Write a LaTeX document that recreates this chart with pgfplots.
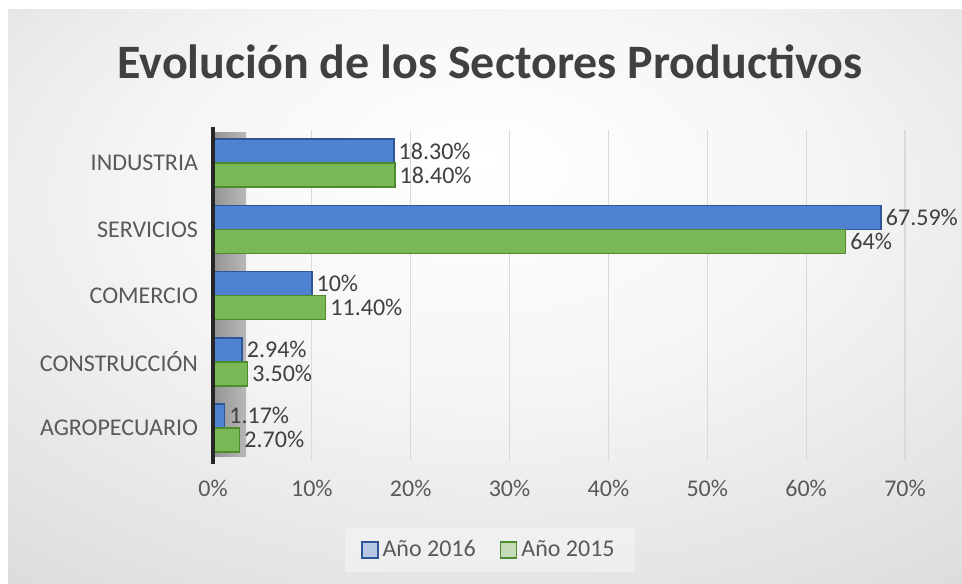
\documentclass[border=0pt]{standalone}
\usepackage{pgfplots}
\pgfplotsset{compat=1.18}
\usepackage{fontspec}
\setmainfont{Carlito}

\definecolor{azul}{HTML}{5082D2}
\definecolor{azulborde}{HTML}{2F5597}
\definecolor{verde}{HTML}{7AB855}
\definecolor{verdeborde}{HTML}{4E8A2E}
\definecolor{texto}{HTML}{595959}
\definecolor{titulo}{HTML}{404040}
\definecolor{rejilla}{HTML}{DADADA}

\pgfdeclareradialshading{fondo}{\pgfpoint{0bp}{12bp}}{%
  color(0bp)=(white); color(18bp)=(black!4); color(45bp)=(black!16); color(75bp)=(black!24)}

\begin{document}
\begin{tikzpicture}
\useasboundingbox (0,0) rectangle (481pt,291.5pt);
% fondo
\fill[white] (0,0) rectangle (481pt,291.5pt);
\shade[shading=fondo] (4pt,0) rectangle (481pt,286.5pt);
\node[font=\fontsize{24}{28}\selectfont\bfseries, text=titulo] at (245pt,260.5pt)
  {Evolución de los Sectores Productivos};
% pared lateral 3D
\shade[left color=black!42, right color=black!28] (107pt,63pt) rectangle (123pt,225pt);

\begin{axis}[
  at={(106.5pt,61pt)}, anchor=south west,
  scale only axis, width=346pt, height=165.5pt,
  clip=false,
  xbar, bar width=12pt,
  xmin=0, xmax=70, ymin=-0.5, ymax=4.5,
  xtick={0,10,...,70},
  xticklabel={\pgfmathprintnumber{\tick}\%},
  ytick={0,...,4},
  yticklabels={AGROPECUARIO,CONSTRUCCIÓN,COMERCIO,SERVICIOS,INDUSTRIA},
  major tick length=0pt,
  axis line style={draw=none},
  xmajorgrids, grid style={rejilla, line width=0.6pt},
  /pgf/number format/assume math mode=true,
  tick label style={font=\fontsize{12}{14}\selectfont, text=texto},
  xticklabel style={yshift=-6pt},
  yticklabel style={xshift=-4pt},
  point meta=explicit symbolic,
  nodes near coords,
  nodes near coords align={horizontal},
  every node near coord/.append style={anchor=west, font=\fontsize{12}{14}\selectfont, text=titulo, inner sep=2pt},
  legend style={at={(axis description cs:0.4,-0.269)}, anchor=center,
    legend columns=2, draw=none, fill=white, fill opacity=0.35, text opacity=1,
    font=\fontsize{12}{14}\selectfont, text=texto,
    inner xsep=8pt, inner ysep=4pt,
    /tikz/every even column/.append style={column sep=10pt}},
  legend image code/.code={\draw[#1] (0pt,-4pt) rectangle (8pt,4pt);},
]
\addplot[fill=azul, draw=azulborde, line width=0.8pt, bar shift=6pt] coordinates {
  (1.17,0) [1.17\%]
  (2.94,1) [2.94\%]
  (10,2) [10\%]
  (67.59,3) [67.59\%]
  (18.3,4) [18.30\%]
};
\addlegendentry{Año 2016}
\addplot[fill=verde, draw=verdeborde, line width=0.8pt, bar shift=-6pt] coordinates {
  (2.7,0) [2.70\%]
  (3.5,1) [3.50\%]
  (11.4,2) [11.40\%]
  (64,3) [64\%]
  (18.4,4) [18.40\%]
};
\addlegendentry{Año 2015}

\draw[line width=2pt, black!85] (axis cs:0,-0.55) -- (axis cs:0,4.55);
\end{axis}
\end{tikzpicture}
\end{document}
